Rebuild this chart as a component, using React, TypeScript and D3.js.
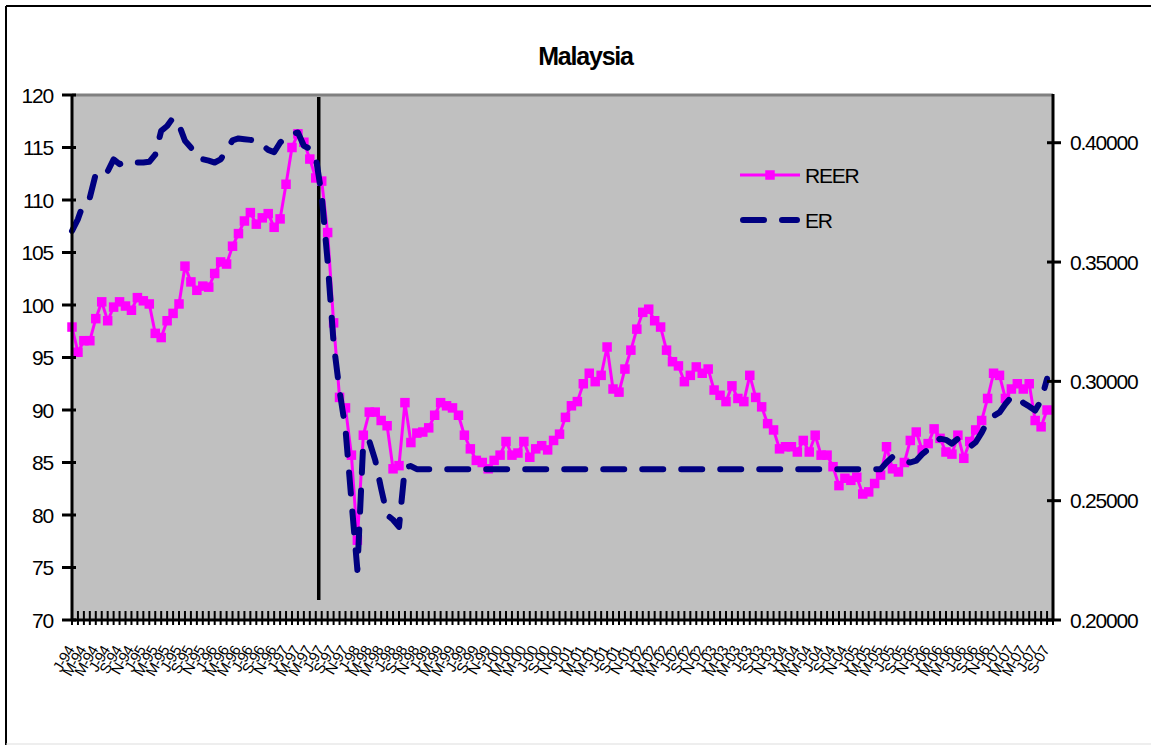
import React from "react";
import * as d3 from "d3";

const monthLetters = ["J", "F", "M", "A", "M", "J", "J", "A", "S", "O", "N", "D"];
const years = [94, 95, 96, 97, 98, 99, 0, 1, 2, 3, 4, 5, 6, 7];
const categoryCount = 166; // Jan-94 .. Oct-07 (last category empty)

const reer = [
  97.9, 95.5, 96.6, 96.6, 98.7, 100.3, 98.5, 99.8, 100.3, 99.9,
  99.5, 100.7, 100.4, 100.1, 97.3, 96.9, 98.5, 99.2, 100.1, 103.7,
  102.2, 101.4, 101.8, 101.7, 103.0, 104.1, 103.9, 105.6, 106.8, 108.0,
  108.8, 107.7, 108.3, 108.7, 107.4, 108.2, 111.5, 115.0, 116.3, 115.5,
  113.9, 112.1, 111.8, 106.9, 98.3, 91.2, 90.2, 85.7, 77.6, 87.6,
  89.8, 89.8, 89.0, 88.5, 84.4, 84.7, 90.7, 86.9, 87.8, 87.9,
  88.3, 89.5, 90.7, 90.4, 90.2, 89.5, 87.6, 86.3, 85.2, 85.0,
  84.4, 85.2, 85.7, 87.0, 85.7, 85.9, 87.0, 85.5, 86.3, 86.6,
  86.2, 87.1, 87.7, 89.3, 90.4, 90.8, 92.5, 93.5, 92.7, 93.3,
  96.0, 92.0, 91.7, 93.9, 95.7, 97.7, 99.3, 99.6, 98.5, 97.9,
  95.7, 94.6, 94.2, 92.7, 93.3, 94.1, 93.5, 93.9, 91.9, 91.4,
  90.8, 92.3, 91.1, 90.8, 93.3, 91.2, 90.3, 88.7, 88.1, 86.3,
  86.5, 86.5, 86.0, 87.1, 86.0, 87.6, 85.7, 85.7, 84.6, 82.8,
  83.5, 83.3, 83.6, 82.0, 82.2, 83.0, 83.8, 86.5, 84.4, 84.1,
  85.0, 87.1, 87.9, 86.2, 86.8, 88.2, 87.3, 86.0, 85.8, 87.6,
  85.4, 87.0, 88.1, 89.0, 91.1, 93.5, 93.3, 91.1, 92.0, 92.5,
  92.0, 92.5, 89.0, 88.4, 90.0,
];

const er = [
  0.363, 0.368, 0.375, 0.377, 0.387, 0.389, 0.388, 0.393, 0.391, 0.392,
  0.392, 0.3917, 0.3917, 0.392, 0.395, 0.405, 0.407, 0.4105, 0.4075, 0.4008,
  0.398, 0.3938, 0.3931, 0.3925, 0.3917, 0.393, 0.397, 0.401, 0.4018, 0.4015,
  0.4012, 0.4008, 0.399, 0.397, 0.396, 0.4, 0.4025, 0.4038, 0.4043, 0.3987,
  0.3975, 0.394, 0.378, 0.35, 0.316, 0.296, 0.28, 0.25, 0.221, 0.275,
  0.275, 0.267, 0.255, 0.244, 0.242, 0.239, 0.2641, 0.2645, 0.2632, 0.2632,
  0.2632, 0.2632, 0.2632, 0.2632, 0.2632, 0.2632, 0.2632, 0.2632, 0.2632, 0.2632,
  0.2632, 0.2632, 0.2632, 0.2632, 0.2632, 0.2632, 0.2632, 0.2632, 0.2632, 0.2632,
  0.2632, 0.2632, 0.2632, 0.2632, 0.2632, 0.2632, 0.2632, 0.2632, 0.2632, 0.2632,
  0.2632, 0.2632, 0.2632, 0.2632, 0.2632, 0.2632, 0.2632, 0.2632, 0.2632, 0.2632,
  0.2632, 0.2632, 0.2632, 0.2632, 0.2632, 0.2632, 0.2632, 0.2632, 0.2632, 0.2632,
  0.2632, 0.2632, 0.2632, 0.2632, 0.2632, 0.2632, 0.2632, 0.2632, 0.2632, 0.2632,
  0.2632, 0.2632, 0.2632, 0.2632, 0.2632, 0.2632, 0.2632, 0.2632, 0.2632, 0.2632,
  0.2632, 0.2632, 0.2632, 0.2632, 0.2632, 0.2632, 0.2632, 0.266, 0.2683, 0.2672,
  0.2665, 0.266, 0.2668, 0.2695, 0.2715, 0.274, 0.276, 0.2755, 0.2739, 0.276,
  0.2735, 0.2725, 0.2745, 0.2785, 0.2835, 0.2855, 0.287, 0.2905, 0.2935, 0.2935,
  0.291, 0.2895, 0.2878, 0.292, 0.3011,
];

const leftTicks = [70, 75, 80, 85, 90, 95, 100, 105, 110, 115, 120];
const rightTicks = [0.2, 0.25, 0.3, 0.35, 0.4];
const crisisIndex = 41.0; // line drawn near Jun/Jul-97

const categories: string[] = [];
years.forEach((y) => {
  monthLetters.forEach((m) => {
    if (categories.length < categoryCount) {
      categories.push(`${m}-${String(y).padStart(2, "0")}`);
    }
  });
});

const W = 1151;
const H = 745;
const plot = { left: 72, right: 1053, top: 95, bottom: 620 };
const font = "'Liberation Sans', Arial, sans-serif";

export default function App() {
  const x = d3
    .scaleLinear()
    .domain([0, categoryCount - 1])
    .range([plot.left, plot.right]);
  const yL = d3.scaleLinear().domain([70, 120]).range([plot.bottom, plot.top]);
  const yR = d3.scaleLinear().domain([0.2, 0.42]).range([plot.bottom, plot.top]);

  const reerLine = d3
    .line<number>()
    .x((_, i) => x(i))
    .y((d) => yL(d));
  const erLine = d3
    .line<number>()
    .x((_, i) => x(i))
    .y((d) => yR(d));

  const ms = 9.5;
  const legX1 = 740;
  const legX2 = 800;
  const crisisX = x(crisisIndex + 0.5);

  return (
    <svg
      width={W}
      height={H}
      style={{ position: "fixed", left: 0, top: 0, display: "block", background: "#fff" }}
      fontFamily={font}
    >
      <rect x={0} y={0} width={W} height={H} fill="#fff" />
      {/* chart frame */}
      <line x1={6} y1={6} x2={W} y2={6} stroke="#000" strokeWidth={2} />
      <line x1={6} y1={6} x2={6} y2={H} stroke="#000" strokeWidth={2} />
      <line x1={6} y1={744} x2={W} y2={744} stroke="#ddd" strokeWidth={1} />

      {/* title */}
      <text
        x={585.5}
        y={58}
        textAnchor="middle"
        dominantBaseline="middle"
        fontWeight="bold"
        fontSize={25}
        letterSpacing={-1.2}
      >
        Malaysia
      </text>

      {/* plot area */}
      <rect
        x={plot.left}
        y={plot.top}
        width={plot.right - plot.left}
        height={plot.bottom - plot.top}
        fill="#C0C0C0"
      />
      <line x1={plot.left} y1={plot.top} x2={plot.right} y2={plot.top} stroke="#808080" strokeWidth={3} />

      {/* crisis line */}
      <line x1={crisisX} x2={crisisX} y1={97} y2={600} stroke="#000" strokeWidth={3.5} />

      {/* REER */}
      <path d={reerLine(reer) || ""} fill="none" stroke="#FF00FF" strokeWidth={3} strokeLinejoin="round" />
      {reer.map((d, i) => (
        <rect key={i} x={x(i) - ms / 2} y={yL(d) - ms / 2} width={ms} height={ms} fill="#FF00FF" />
      ))}

      {/* ER */}
      <path
        d={erLine(er) || ""}
        fill="none"
        stroke="#000080"
        strokeWidth={6}
        strokeDasharray="21 18"
        strokeLinecap="round"
        strokeLinejoin="round"
      />

      {/* axes */}
      <line x1={plot.left} y1={plot.top - 1} x2={plot.left} y2={plot.bottom + 1} stroke="#000" strokeWidth={3} />
      <line x1={plot.right} y1={plot.top - 1} x2={plot.right} y2={plot.bottom + 1} stroke="#000" strokeWidth={3} />
      <line x1={plot.left - 1} y1={plot.bottom} x2={plot.right + 1} y2={plot.bottom} stroke="#000" strokeWidth={3} />

      {leftTicks.map((t) => (
        <g key={t}>
          <line x1={plot.left - 10} x2={plot.left + 4} y1={yL(t)} y2={yL(t)} stroke="#000" strokeWidth={3} />
          <text
            x={53}
            y={yL(t)}
            textAnchor="end"
            dominantBaseline="central"
            fontSize={21}
            letterSpacing={-1.2}
          >
            {t}
          </text>
        </g>
      ))}
      {rightTicks.map((t) => (
        <g key={t}>
          <line x1={plot.right - 6} x2={plot.right + 8} y1={yR(t)} y2={yR(t)} stroke="#000" strokeWidth={3} />
          <text
            x={1070}
            y={yR(t)}
            textAnchor="start"
            dominantBaseline="central"
            fontSize={21}
            letterSpacing={-1.2}
          >
            {t.toFixed(5)}
          </text>
        </g>
      ))}
      {categories.map((c, i) => (
        <line key={"t" + i} x1={x(i)} x2={x(i)} y1={611} y2={625} stroke="#000" strokeWidth={2} />
      ))}
      {categories.map((c, i) =>
        i % 2 === 0 && i < reer.length ? (
          <text
            key={"l" + i}
            transform={`translate(${x(i) - 2},${647}) rotate(-60)`}
            textAnchor="end"
            dominantBaseline="central"
            fontSize={15}
            letterSpacing={-0.6}
          >
            {c}
          </text>
        ) : null
      )}

      {/* legend */}
      <line x1={legX1} x2={legX2} y1={175} y2={175} stroke="#FF00FF" strokeWidth={3} />
      <rect x={(legX1 + legX2) / 2 - ms / 2} y={175 - ms / 2} width={ms} height={ms} fill="#FF00FF" />
      <text x={805} y={175} dominantBaseline="central" fontSize={21} letterSpacing={-1.2}>
        REER
      </text>
      <line
        x1={legX1 + 3}
        x2={legX2 - 3}
        y1={220}
        y2={220}
        stroke="#000080"
        strokeWidth={6}
        strokeDasharray="21 18"
        strokeLinecap="round"
      />
      <text x={805} y={220} dominantBaseline="central" fontSize={21} letterSpacing={-1.2}>
        ER
      </text>
    </svg>
  );
}
